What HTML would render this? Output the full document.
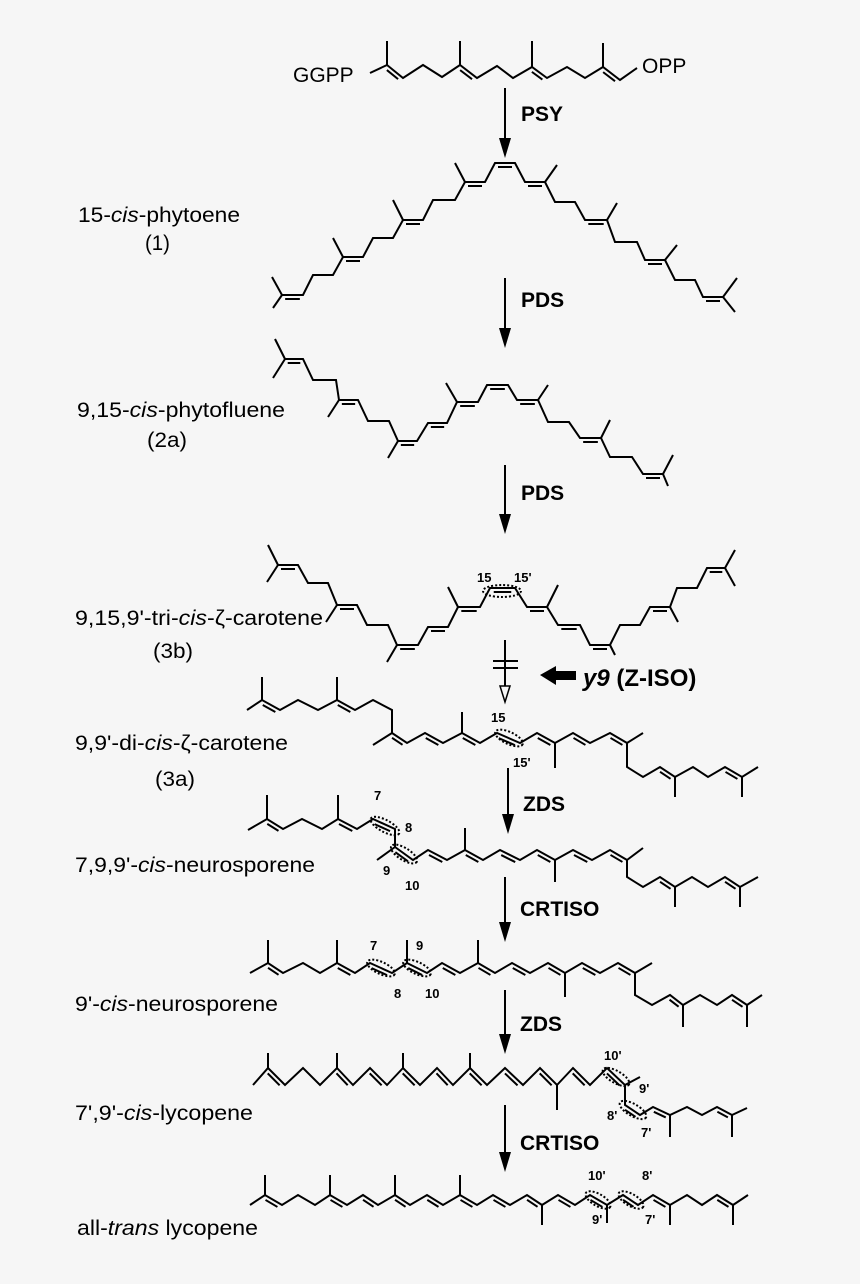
<!DOCTYPE html>
<html><head><meta charset="utf-8">
<style>
html,body{margin:0;padding:0;background:#f6f6f6;}
svg{display:block;}
text{font-family:"Liberation Sans",sans-serif;fill:#000;}
.lb{font-size:21px;}
.en{font-size:21px;font-weight:bold;}
.num{font-size:13px;font-weight:bold;}
</style></head>
<body>
<svg id="s" width="860" height="1284" viewBox="0 0 860 1284" xmlns="http://www.w3.org/2000/svg">
<rect width="860" height="1284" fill="#f6f6f6"/>
<g id="m" stroke="#000" stroke-width="2" fill="none" stroke-linejoin="miter"></g>
<g id="d" stroke="#000" stroke-width="2" fill="none" stroke-dasharray="2,2"></g>
<g stroke="#000" stroke-width="2">
<line x1="505" y1="88" x2="505" y2="140"/>
<line x1="505" y1="278" x2="505" y2="330"/>
<line x1="505" y1="465" x2="505" y2="516"/>
<line x1="505" y1="640" x2="505" y2="690"/>
<line x1="493" y1="661" x2="518" y2="661"/>
<line x1="493" y1="668" x2="518" y2="668"/>
<line x1="508" y1="768" x2="508" y2="816"/>
<line x1="505" y1="877" x2="505" y2="924"/>
<line x1="505" y1="990" x2="505" y2="1036"/>
<line x1="505" y1="1105" x2="505" y2="1154"/>
</g>
<g fill="#000">
<polygon points="499,138 511,138 505,158"/>
<polygon points="499,328 511,328 505,348"/>
<polygon points="499,514 511,514 505,534"/>
<polygon points="502,814 514,814 508,834"/>
<polygon points="499,922 511,922 505,942"/>
<polygon points="499,1034 511,1034 505,1054"/>
<polygon points="499,1152 511,1152 505,1172"/>
<polygon points="540,675 556,666 556,671 576,671 576,680 556,680 556,685"/>
</g>
<polygon points="500,686 510,686 505,702" fill="#f6f6f6" stroke="#000" stroke-width="1.5"/>
<text class="en" x="521" y="121">PSY</text>
<text class="en" x="521" y="307">PDS</text>
<text class="en" x="521" y="500">PDS</text>
<text x="583" y="686" style="font-size:24px;font-weight:bold"><tspan font-style="italic">y9</tspan> (Z-ISO)</text>
<text class="en" x="523" y="811">ZDS</text>
<text class="en" x="520" y="916">CRTISO</text>
<text class="en" x="520" y="1031">ZDS</text>
<text class="en" x="520" y="1150">CRTISO</text>
<text class="lb" x="293" y="82">GGPP</text>
<text class="lb" x="642" y="73">OPP</text>
<text class="lb" x="78" y="222" textLength="162" lengthAdjust="spacingAndGlyphs">15-<tspan font-style="italic">cis</tspan>-phytoene</text>
<text class="lb" x="145" y="250" textLength="25" lengthAdjust="spacingAndGlyphs">(1)</text>
<text class="lb" x="77" y="417" textLength="208" lengthAdjust="spacingAndGlyphs">9,15-<tspan font-style="italic">cis</tspan>-phytofluene</text>
<text class="lb" x="147" y="447" textLength="40" lengthAdjust="spacingAndGlyphs">(2a)</text>
<text class="lb" x="75" y="625" textLength="248" lengthAdjust="spacingAndGlyphs">9,15,9'-tri-<tspan font-style="italic">cis</tspan>-ζ-carotene</text>
<text class="lb" x="153" y="658" textLength="40" lengthAdjust="spacingAndGlyphs">(3b)</text>
<text class="lb" x="75" y="750" textLength="213" lengthAdjust="spacingAndGlyphs">9,9'-di-<tspan font-style="italic">cis</tspan>-ζ-carotene</text>
<text class="lb" x="155" y="786" textLength="40" lengthAdjust="spacingAndGlyphs">(3a)</text>
<text class="lb" x="75" y="872" textLength="240" lengthAdjust="spacingAndGlyphs">7,9,9'-<tspan font-style="italic">cis</tspan>-neurosporene</text>
<text class="lb" x="75" y="1011" textLength="203" lengthAdjust="spacingAndGlyphs">9'-<tspan font-style="italic">cis</tspan>-neurosporene</text>
<text class="lb" x="75" y="1120" textLength="178" lengthAdjust="spacingAndGlyphs">7',9'-<tspan font-style="italic">cis</tspan>-lycopene</text>
<text class="lb" x="77" y="1235" textLength="181" lengthAdjust="spacingAndGlyphs">all-<tspan font-style="italic">trans</tspan> lycopene</text>
<text class="num" x="477" y="582">15</text><text class="num" x="514" y="582">15'</text>
<text class="num" x="491" y="722">15</text><text class="num" x="513" y="767">15'</text>
<text class="num" x="374" y="800">7</text><text class="num" x="405" y="832">8</text><text class="num" x="383" y="875">9</text><text class="num" x="405" y="890">10</text>
<text class="num" x="370" y="950">7</text><text class="num" x="416" y="950">9</text><text class="num" x="394" y="998">8</text><text class="num" x="425" y="998">10</text>
<text class="num" x="604" y="1060">10'</text><text class="num" x="639" y="1093">9'</text><text class="num" x="607" y="1120">8'</text><text class="num" x="641" y="1137">7'</text>
<text class="num" x="588" y="1180">10'</text><text class="num" x="642" y="1180">8'</text><text class="num" x="592" y="1224">9'</text><text class="num" x="645" y="1224">7'</text>
</svg>
<script>
var NS="http://www.w3.org/2000/svg",G=document.getElementById("m"),D=document.getElementById("d");
function el(g,t,a){var e=document.createElementNS(NS,t);for(var k in a)e.setAttribute(k,a[k]);g.appendChild(e);return e;}
function line(a,b,g){el(g||G,"line",{x1:a[0],y1:a[1],x2:b[0],y2:b[1]});}
function mol(p,dbl,br,side){
 el(G,"polyline",{points:p.map(function(q){return q.join(",")}).join(" ")});
 dbl.forEach(function(i){var a=p[i],b=p[i+1],dx=b[0]-a[0],dy=b[1]-a[1],L=Math.hypot(dx,dy);
  var nx=-dy/L*4,ny=dx/L*4; var s=(side&&side[i]!==undefined)?side[i]:1; if(ny<0){nx=-nx;ny=-ny;} nx*=s;ny*=s;
  var sh=0.15; line([a[0]+dx*sh+nx,a[1]+dy*sh+ny],[b[0]-dx*sh+nx,b[1]-dy*sh+ny]);});
 br.forEach(function(b){line(p[b[0]],[b[1],b[2]]);});
}
function zz(xs,yu,yd,startDown){return xs.map(function(x,i){return [x,((i%2==0)==startDown)?yd:yu];});}
function ell(cx,cy,rx,ry,rot){el(D,"ellipse",{cx:cx,cy:cy,rx:rx,ry:ry,transform:"rotate("+rot+" "+cx+" "+cy+")"});}
mol([[370,73],[387,65],[403,78],[423,65],[442,77],[460,65],[477,78],[497,66],[513,78],[532,67],[547,78],[567,67],[585,78],[603,67],[620,80],[637,68]],
 [1,5,9,13],[[1,387,41],[5,460,41],[9,532,41],[13,603,43]]);
var P=[[282,295],[303,295],[313,275],[333,275],[343,257],[363,257],[373,238],[393,238],[403,220],[423,220],[433,200],[455,200],[465,182],[485,182],[495,163],[515,163],[525,182],[545,182],[555,202],[575,202],[585,220],[607,220],[615,242],[637,242],[645,260],[665,260],[675,280],[695,280],[703,297],[723,297]];
mol(P,[0,4,8,12,14,16,20,24,28],[[0,272,277],[0,273,308],[4,333,238],[8,393,200],[12,455,163],[17,557,165],[21,617,203],[25,677,245],[29,737,278],[29,735,312]]);
var F=[[285,359],[303,359],[313,380],[336,380],[339,400],[358,400],[368,421],[389,421],[398,441],[417,441],[428,423],[447,423],[457,402],[478,402],[487,385],[508,385],[517,400],[538,400],[548,422],[569,422],[580,438],[601,438],[610,457],[632,457],[643,474],[663,474]];
mol(F,[0,4,8,10,12,14,16,20,24],[[0,275,339],[0,273,378],[4,328,417],[8,388,458],[12,446,383],[17,548,385],[21,610,420],[25,673,455],[25,668,486]]);
var B=[[278,565],[298,565],[308,583],[328,583],[337,605],[357,605],[367,625],[388,625],[397,645],[418,645],[428,627],[448,627],[458,607],[480,607],[490,588],[515,588],[527,607],[547,607],[558,625],[580,625],[590,645],[610,645],[620,625],[640,625],[650,607],[670,607],[677,588],[697,588],[707,568],[725,568]];
mol(B,[0,4,8,10,12,14,16,18,20,24,28],[[0,268,545],[0,267,582],[4,326,622],[8,387,662],[12,448,587],[17,558,585],[21,615,655],[25,678,622],[29,735,550],[29,735,586]]);
ell(502,591,19,6,0);
var A1=[[247,710],[262,700],[280,710],[298,700],[318,710],[337,700],[355,710],[373,700],[392,710],[392,733]];
mol(A1,[1,5],[[1,262,677],[5,337,677]]);
var A2=[[392,733],[407,743],[425,733],[443,743],[462,733],[480,743],[497,733],[520,743],[537,733],[555,743],[573,733],[590,743],[610,733],[627,743],[627,767],[643,777],[660,767],[675,777],[693,767],[708,777],[725,767],[742,777],[758,767]];
mol(A2,[0,2,4,6,8,10,12,16,20],[[0,373,745],[4,462,712],[9,555,768],[13,643,733],[17,675,797],[21,742,797]]);
ell(509,738,15,6,25);
var N1=[[248,830],[267,819],[283,829],[302,819],[322,829],[338,819],[357,829],[373,819],[395,829],[395,847]];
mol(N1,[1,5,7],[[1,267,795],[5,338,795]]);
var N2=[[395,847],[413,860],[428,850],[447,860],[465,850],[483,860],[500,850],[520,860],[537,850],[555,860],[573,850],[592,860],[610,850],[627,860],[627,877],[643,887],[660,877],[675,887],[692,877],[708,887],[725,877],[740,887],[758,877]];
mol(N2,[0,2,4,6,8,10,12,16,20],[[0,377,860],[4,465,828],[9,555,882],[13,643,848],[17,675,907],[21,740,907]]);
ell(385,826,16,6,28);ell(404,854,15,6,32);
var xs=[250,268,283,303,320,337,355,370,392,407,427,442,460,478,495,512,530,548,565,582,600,618,635];
var C=zz(xs,963,973,true).concat([[635,995],[652,1005],[670,995],[683,1005],[700,995],[717,1005],[732,995],[747,1005],[762,995]]);
mol(C,[1,5,7,9,11,13,15,17,19,21,25,29],[[1,268,940],[5,337,940],[9,407,940],[13,478,940],[18,565,997],[22,652,963],[26,683,1027],[30,747,1027]]);
ell(381,968,15,6,25);ell(417,968,15,6,25);
xs=[253,268,285,303,320,337,353,370,387,403,420,437,453,470,487,505,523,540,557,573,590,607,625];
var L=zz(xs,1068,1085,true).concat([[625,1105],[640,1115],[653,1107],[670,1115],[687,1107],[702,1115],[717,1107],[732,1115],[747,1108]]);
mol(L,[1,5,7,9,11,13,15,17,19,21,23,25,29],[[1,268,1053],[5,337,1053],[9,403,1053],[13,470,1053],[18,557,1110],[22,640,1077],[26,670,1137],[30,732,1137]]);
ell(616,1077,15,6,30);ell(633,1110,15,6,30);
xs=[250,265,282,298,315,330,347,363,378,395,410,427,443,460,477,493,510,527,542,558,575,590,607,623,638,653,670,687,702,717,733,748];
var T=zz(xs,1195,1205,true);
mol(T,[1,5,7,9,11,13,15,17,19,21,23,25,29],[[1,265,1175],[5,330,1175],[9,395,1175],[13,460,1175],[18,542,1225],[22,607,1223],[26,670,1225],[30,733,1225]]);
ell(598,1200,14,6,30);ell(631,1200,14,6,30);
</script>
</body></html>
